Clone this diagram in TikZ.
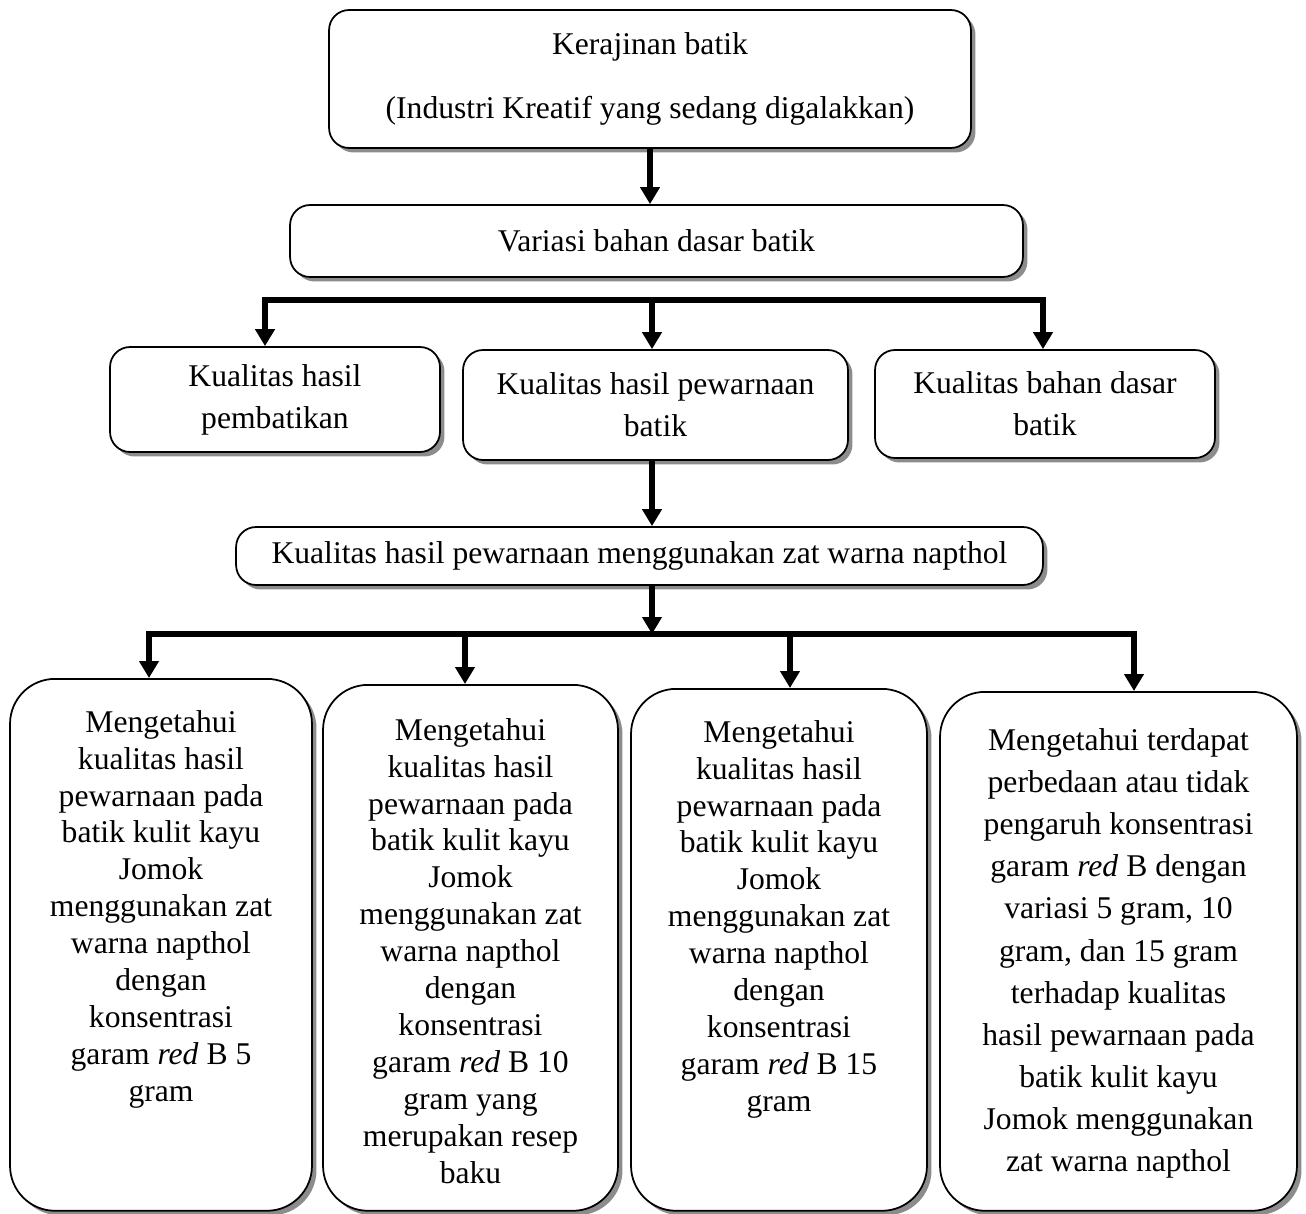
\documentclass[tikz,border=0pt]{standalone}
\usepackage{fontspec}
\setmainfont{Liberation Serif}
\usetikzlibrary{arrows.meta,shadows}

\tikzset{
  box/.style={draw,line width=1pt,fill=white,rounded corners=0.4cm,align=center,inner sep=0pt,
    drop shadow={shadow xshift=0.09cm,shadow yshift=-0.09cm,fill=black!45,opacity=1}},
  tallbox/.style={box,rounded corners=0.9cm,anchor=north},
  body/.style={align=center,inner sep=0pt,anchor=north},
  link/.style={line width=0.12cm,-{Triangle[length=0.34cm,width=0.38cm]}},
}

\begin{document}
\begin{tikzpicture}[x=0.02cm,y=-0.02cm,font=\fontsize{18}{21}\selectfont]
  \useasboundingbox (0,0) rectangle (1306,1214);

  \node[box,minimum width=12.84cm,minimum height=2.76cm] (craft) at (650,79)
    {Kerajinan batik\\[15pt](Industri Kreatif yang sedang digalakkan)};
  \node[box,minimum width=14.66cm,minimum height=1.44cm] (variation) at (656.5,241) {Variasi bahan dasar batik};

  \node[box,minimum width=6.6cm,minimum height=2.1cm] (qualBatik) at (275,399.5) {Kualitas hasil\\[3pt]pembatikan};
  \node[box,minimum width=7.7cm,minimum height=2.2cm] (qualColor) at (655.5,405) {Kualitas hasil pewarnaan\\[3pt]batik};
  \node[box,minimum width=6.8cm,minimum height=2.16cm] (qualBase) at (1045,404) {Kualitas bahan dasar\\[3pt]batik};

  \node[box,minimum width=16.14cm,minimum height=1.16cm] (napthol) at (639.5,556)
    {Kualitas hasil pewarnaan menggunakan zat warna napthol};

  % the four aims
  \node[tallbox,minimum width=6.04cm,minimum height=10.64cm] (aimFive) at (161,678) {};
  \node[tallbox,minimum width=5.9cm,minimum height=10.52cm] (aimTen) at (470.5,684) {};
  \node[tallbox,minimum width=5.92cm,minimum height=10.44cm] (aimFifteen) at (779,688) {};
  \node[tallbox,minimum width=7.14cm,minimum height=10.38cm] (aimAll) at (1118.5,691) {};

  \node[body] (aimFiveText) at ([yshift=-0.64cm]aimFive.north)
    {Mengetahui\\kualitas hasil\\pewarnaan pada\\batik kulit kayu\\Jomok\\menggunakan zat\\warna napthol\\dengan\\konsentrasi\\garam \textit{red} B 5\\gram};
  \node[body] (aimTenText) at ([yshift=-0.68cm]aimTen.north)
    {Mengetahui\\kualitas hasil\\pewarnaan pada\\batik kulit kayu\\Jomok\\menggunakan zat\\warna napthol\\dengan\\konsentrasi\\garam \textit{red} B 10\\gram yang\\merupakan resep\\baku};
  \node[body] (aimFifteenText) at ([yshift=-0.64cm]aimFifteen.north)
    {Mengetahui\\kualitas hasil\\pewarnaan pada\\batik kulit kayu\\Jomok\\menggunakan zat\\warna napthol\\dengan\\konsentrasi\\garam \textit{red} B 15\\gram};
  \node[body,font=\fontsize{18}{24}\selectfont] (aimAllText) at ([yshift=-0.74cm]aimAll.north)
    {Mengetahui terdapat\\perbedaan atau tidak\\pengaruh konsentrasi\\garam \textit{red} B dengan\\variasi 5 gram, 10\\gram, dan 15 gram\\terhadap kualitas\\hasil pewarnaan pada\\batik kulit kayu\\Jomok menggunakan\\zat warna napthol};

  \coordinate (forkTop) at (652,300);
  \coordinate (forkLow) at (652,634);

  \draw[link] (craft.south) -- (craft.south |- variation.north);
  \draw[link] (forkTop) -| ([xshift=-0.2cm]qualBatik.north);
  \draw[link] (forkTop) -- (forkTop |- qualColor.north);
  \draw[link] (forkTop) -| ([xshift=-0.04cm]qualBase.north);
  \draw[link] (qualColor.south -| forkTop) -- (forkTop |- napthol.north);
  \draw[link] (napthol.south -| forkLow) -- (forkLow);
  \foreach \aim/\dx in {aimFive/-0.24cm,aimTen/-0.11cm,aimFifteen/0.22cm,aimAll/0.31cm}
    \draw[link] (forkLow) -| ([xshift=\dx]\aim.north);
\end{tikzpicture}
\end{document}
